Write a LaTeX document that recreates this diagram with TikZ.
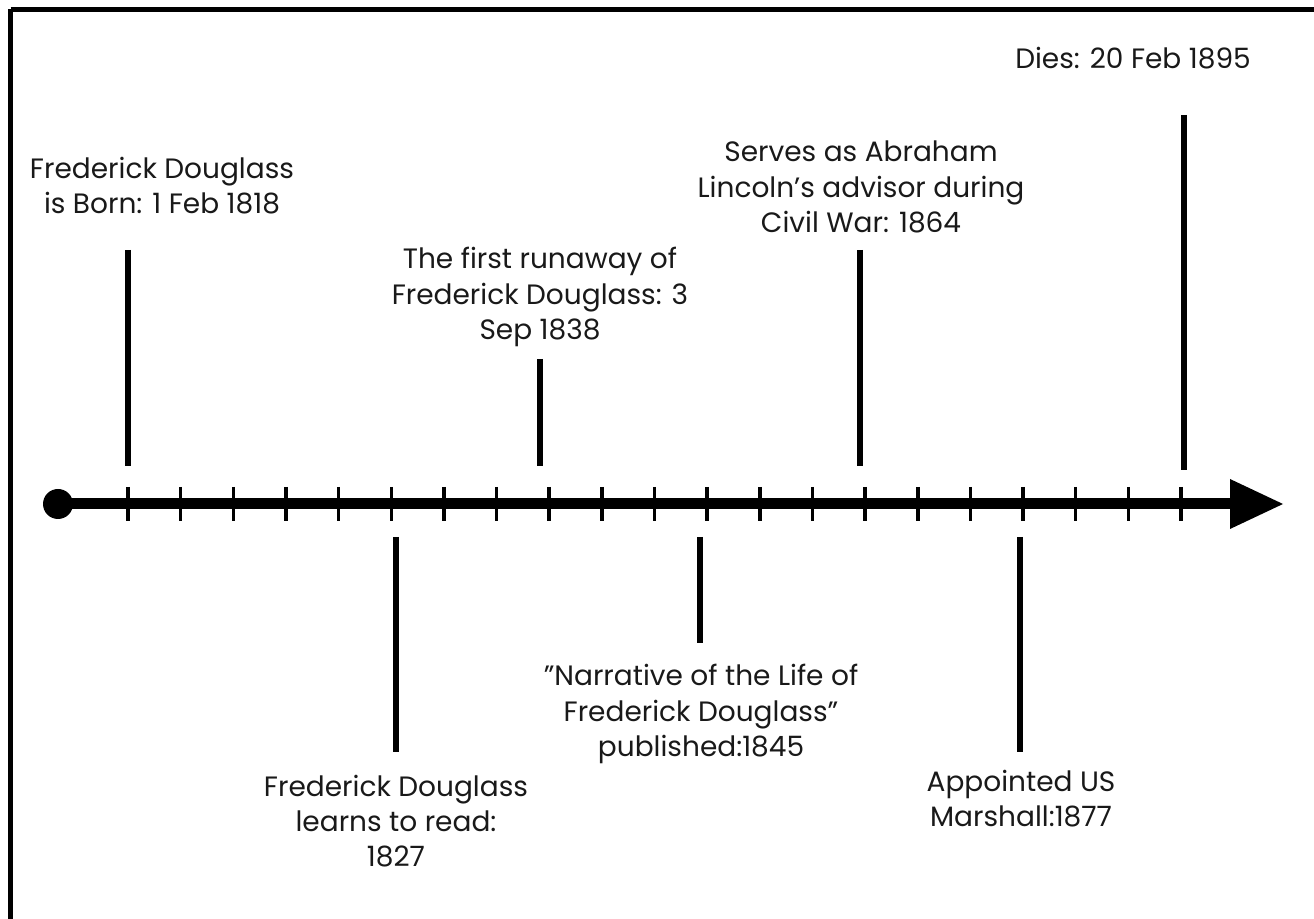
\documentclass[tikz,border=0pt]{standalone}
\usepackage{fontspec}
\setmainfont{Poppins}
\begin{document}
\begin{tikzpicture}[x=1pt,y=1pt,
  evtext/.style={inner sep=0pt, align=center, anchor=base, font=\fontsize{28}{35.5}\selectfont, text=black!90},
  evline/.style={line width=6pt, black},
  tick/.style={line width=3.5pt, black}]
\useasboundingbox (0,0) rectangle (1314,918);
\clip (0,0) rectangle (1314,918);
% frame
\draw[line width=5pt] (10.5,908.5) -- (1330,908.5);
\draw[line width=5pt] (10.5,908.5) -- (10.5,-10);
% axis
\coordinate (start) at (58,414);
\coordinate (base) at (1230,414);
\draw[line width=11pt] (start) -- (base);
\fill (start) circle (15);
\fill (1230,439) -- (1283,414) -- (1230,389) -- cycle;
\foreach \i in {0,...,20} {
  \draw[tick] ({128+\i*52.65},431) -- ({128+\i*52.65},397);
}
% event lines
\draw[evline] (128,668) -- (128,452);
\draw[evline] (540,559) -- (540,452);
\draw[evline] (860,668) -- (860,452);
\draw[evline] (1184,803) -- (1184,448);
\draw[evline] (396,381) -- (396,166);
\draw[evline] (700,381) -- (700,275);
\draw[evline] (1020,381) -- (1020,166);
% texts (anchored at the baseline of the last line)
\node[evtext] (born) at (162,704) {Frederick Douglass\\is Born: 1 Feb 1818};
\node[evtext] (run) at (540,578) {The first runaway of\\Frederick Douglass: 3\\Sep 1838};
\node[evtext] (linc) at (861,685) {Serves as Abraham\\Lincoln{\char39}s advisor during\\Civil War: 1864};
\node[evtext] (dies) at (1133,849) {Dies: 20 Feb 1895};
\node[evtext] (read) at (396,51) {Frederick Douglass\\learns to read:\\1827};
\node[evtext] (narr) at (701,161) {"Narrative of the Life of\\Frederick Douglass”\\published:1845};
\node[evtext] (marsh) at (1021,91) {Appointed US\\Marshall:1877};
\end{tikzpicture}
\end{document}
